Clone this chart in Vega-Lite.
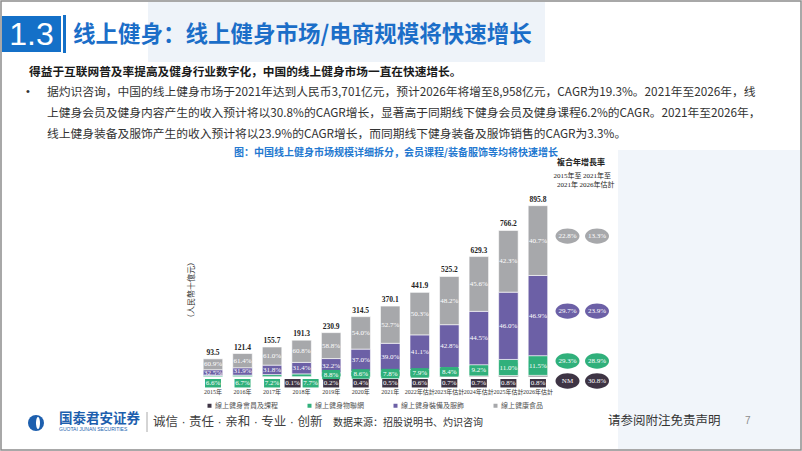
{
  "$schema": "https://vega.github.io/schema/vega-lite/v6.json",
  "width": 802,
  "height": 451,
  "padding": 0,
  "autosize": {"type": "none"},
  "background": "white",
  "config": {"view": {"stroke": null}, "text": {"font": "Noto Sans CJK SC"}},
  "data": {"values": [{}]},
  "datasets": {
    "seg": [
      {"year": "2015年", "seg": "線上健身物聯網", "value": 6.17, "pct": "6.6%"},
      {"year": "2015年", "seg": "線上健身裝備及服飾", "value": 30.39, "pct": "32.5%"},
      {"year": "2015年", "seg": "線上健康食品", "value": 56.94, "pct": "60.9%"},
      {"year": "2016年", "seg": "線上健身物聯網", "value": 8.13, "pct": "6.7%"},
      {"year": "2016年", "seg": "線上健身裝備及服飾", "value": 38.73, "pct": "31.9%"},
      {"year": "2016年", "seg": "線上健康食品", "value": 74.54, "pct": "61.4%"},
      {"year": "2017年", "seg": "線上健身物聯網", "value": 11.21, "pct": "7.2%"},
      {"year": "2017年", "seg": "線上健身裝備及服飾", "value": 49.51, "pct": "31.8%"},
      {"year": "2017年", "seg": "線上健康食品", "value": 94.98, "pct": "61.0%"},
      {"year": "2018年", "seg": "線上健身會員及課程", "value": 0.19, "pct": "0.1%"},
      {"year": "2018年", "seg": "線上健身物聯網", "value": 14.73, "pct": "7.7%"},
      {"year": "2018年", "seg": "線上健身裝備及服飾", "value": 60.07, "pct": "31.4%"},
      {"year": "2018年", "seg": "線上健康食品", "value": 116.31, "pct": "60.8%"},
      {"year": "2019年", "seg": "線上健身會員及課程", "value": 0.46, "pct": "0.2%"},
      {"year": "2019年", "seg": "線上健身物聯網", "value": 20.32, "pct": "8.8%"},
      {"year": "2019年", "seg": "線上健身裝備及服飾", "value": 74.35, "pct": "32.2%"},
      {"year": "2019年", "seg": "線上健康食品", "value": 135.77, "pct": "58.8%"},
      {"year": "2020年", "seg": "線上健身會員及課程", "value": 1.26, "pct": "0.4%"},
      {"year": "2020年", "seg": "線上健身物聯網", "value": 27.05, "pct": "8.6%"},
      {"year": "2020年", "seg": "線上健身裝備及服飾", "value": 116.37, "pct": "37.0%"},
      {"year": "2020年", "seg": "線上健康食品", "value": 169.82, "pct": "54.0%"},
      {"year": "2021年", "seg": "線上健身會員及課程", "value": 1.85, "pct": "0.5%"},
      {"year": "2021年", "seg": "線上健身物聯網", "value": 28.87, "pct": "7.8%"},
      {"year": "2021年", "seg": "線上健身裝備及服飾", "value": 144.34, "pct": "39.0%"},
      {"year": "2021年", "seg": "線上健康食品", "value": 195.04, "pct": "52.7%"},
      {"year": "2022年估計", "seg": "線上健身會員及課程", "value": 2.65, "pct": "0.6%"},
      {"year": "2022年估計", "seg": "線上健身物聯網", "value": 34.91, "pct": "7.9%"},
      {"year": "2022年估計", "seg": "線上健身裝備及服飾", "value": 181.62, "pct": "41.1%"},
      {"year": "2022年估計", "seg": "線上健康食品", "value": 222.72, "pct": "50.3%"},
      {"year": "2023年估計", "seg": "線上健身會員及課程", "value": 3.68, "pct": "0.7%"},
      {"year": "2023年估計", "seg": "線上健身物聯網", "value": 44.12, "pct": "8.4%"},
      {"year": "2023年估計", "seg": "線上健身裝備及服飾", "value": 224.79, "pct": "42.8%"},
      {"year": "2023年估計", "seg": "線上健康食品", "value": 252.61, "pct": "48.2%"},
      {"year": "2024年估計", "seg": "線上健身會員及課程", "value": 4.41, "pct": "0.7%"},
      {"year": "2024年估計", "seg": "線上健身物聯網", "value": 57.9, "pct": "9.2%"},
      {"year": "2024年估計", "seg": "線上健身裝備及服飾", "value": 280.04, "pct": "44.5%"},
      {"year": "2024年估計", "seg": "線上健康食品", "value": 286.95, "pct": "45.6%"},
      {"year": "2025年估計", "seg": "線上健身會員及課程", "value": 6.13, "pct": "0.8%"},
      {"year": "2025年估計", "seg": "線上健身物聯網", "value": 84.28, "pct": "11.0%"},
      {"year": "2025年估計", "seg": "線上健身裝備及服飾", "value": 352.45, "pct": "46.0%"},
      {"year": "2025年估計", "seg": "線上健康食品", "value": 323.34, "pct": "42.3%"},
      {"year": "2026年估計", "seg": "線上健身會員及課程", "value": 7.17, "pct": "0.8%"},
      {"year": "2026年估計", "seg": "線上健身物聯網", "value": 103.02, "pct": "11.5%"},
      {"year": "2026年估計", "seg": "線上健身裝備及服飾", "value": 420.13, "pct": "46.9%"},
      {"year": "2026年估計", "seg": "線上健康食品", "value": 365.48, "pct": "40.7%"}
    ],
    "totals": [
      {"year": "2015年", "total": 93.5},
      {"year": "2016年", "total": 121.4},
      {"year": "2017年", "total": 155.7},
      {"year": "2018年", "total": 191.3},
      {"year": "2019年", "total": 230.9},
      {"year": "2020年", "total": 314.5},
      {"year": "2021年", "total": 370.1},
      {"year": "2022年估計", "total": 441.9},
      {"year": "2023年估計", "total": 525.2},
      {"year": "2024年估計", "total": 629.3},
      {"year": "2025年估計", "total": 766.2},
      {"year": "2026年估計", "total": 895.8}
    ],
    "cagr": [
      {"seg": "線上健康食品", "p1": "22.8%", "p2": "13.3%"},
      {"seg": "線上健身裝備及服飾", "p1": "29.7%", "p2": "23.9%"},
      {"seg": "線上健身物聯網", "p1": "29.3%", "p2": "28.9%"},
      {"seg": "線上健身會員及課程", "p1": "NM", "p2": "30.8%"}
    ],
    "periods": [
      {"pk": "p1", "year": "2015年至\n2021年"},
      {"pk": "p2", "year": "2021年至\n2026年估計"}
    ]
  },
  "layer": [
    {"mark": {"type": "rect", "fill": "#eef3f9"}, "encoding": {"x": {"value": 148}, "x2": {"value": 545}, "y": {"value": 2}, "y2": {"value": 62}}},
    {"mark": {"type": "rect", "fill": "#f1f5fa"}, "encoding": {"x": {"value": 618}, "x2": {"value": 800}, "y": {"value": 150}, "y2": {"value": 449}}},
    {"mark": {"type": "rect", "fill": "#1470c8"}, "encoding": {"x": {"value": 2}, "x2": {"value": 61}, "y": {"value": 16}, "y2": {"value": 52}}},
    {"mark": {"type": "rect", "fill": "#1470c8"}, "encoding": {"x": {"value": 63}, "x2": {"value": 66}, "y": {"value": 15}, "y2": {"value": 53}}},
    {"mark": {"type": "text", "text": "1.3", "font": "Liberation Sans", "fontSize": 32, "color": "white", "align": "center", "baseline": "middle"}, "encoding": {"x": {"value": 31.5}, "y": {"value": 35}}},
    {"mark": {"type": "text", "text": "线上健身：线上健身市场/电商规模将快速增长", "fontSize": 22.5, "fontWeight": "bold", "color": "#1b6ec8", "align": "left", "baseline": "middle"}, "encoding": {"x": {"value": 73}, "y": {"value": 35}}},
    {"mark": {"type": "text", "text": "得益于互联网普及率提高及健身行业数字化，中国的线上健身市场一直在快速增长。", "fontSize": 11.7, "fontWeight": "bold", "color": "#1a1a1a", "align": "left", "baseline": "middle"}, "encoding": {"x": {"value": 29}, "y": {"value": 72}}},
    {"mark": {"type": "text", "text": "•", "font": "Liberation Sans", "fontSize": 11, "color": "#333333", "align": "left", "baseline": "middle"}, "encoding": {"x": {"value": 26}, "y": {"value": 92}}},
    {"mark": {"type": "text", "text": "据灼识咨询，中国的线上健身市场于2021年达到人民币3,701亿元，预计2026年将增至8,958亿元，CAGR为19.3%。2021年至2026年，线", "fontSize": 11.75, "color": "#333333", "align": "left", "baseline": "middle"}, "encoding": {"x": {"value": 47}, "y": {"value": 92}}},
    {"mark": {"type": "text", "text": "上健身会员及健身内容产生的收入预计将以30.8%的CAGR增长，显著高于同期线下健身会员及健身课程6.2%的CAGR。2021年至2026年，", "fontSize": 11.75, "color": "#333333", "align": "left", "baseline": "middle"}, "encoding": {"x": {"value": 47}, "y": {"value": 113}}},
    {"mark": {"type": "text", "text": "线上健身装备及服饰产生的收入预计将以23.9%的CAGR增长，而同期线下健身装备及服饰销售的CAGR为3.3%。", "fontSize": 11.75, "color": "#333333", "align": "left", "baseline": "middle"}, "encoding": {"x": {"value": 47}, "y": {"value": 134}}},
    {"mark": {"type": "text", "text": "图：中国线上健身市场规模详细拆分，会员课程/装备服饰等均将快速增长", "fontSize": 10, "fontWeight": "bold", "color": "#2378d0", "align": "center", "baseline": "middle"}, "encoding": {"x": {"value": 396}, "y": {"value": 153}}},
    {"mark": {"type": "text", "text": "（人民幣十億元）", "font": "Liberation Serif, Noto Sans CJK TC", "fontSize": 8, "angle": 270, "color": "#333333", "align": "center", "baseline": "middle"}, "encoding": {"x": {"value": 192}, "y": {"value": 290}}},
    {"mark": {"type": "text", "text": "複合年增長率", "font": "Liberation Serif, Noto Sans CJK TC", "fontSize": 8, "fontWeight": "bold", "color": "#222222", "align": "center", "baseline": "middle"}, "encoding": {"x": {"value": 581}, "y": {"value": 163}}},
    {
      "data": {"name": "seg"},
      "transform": [{"stack": "value", "groupby": ["year"], "as": ["y0", "y1"]}],
      "mark": {"type": "bar", "width": {"band": 0.66}, "stroke": "white", "strokeWidth": 0.6},
      "encoding": {
        "x": {"field": "year", "type": "nominal", "axis": null, "scale": {"type": "band", "domain": ["2015年","2016年","2017年","2018年","2019年","2020年","2021年","2022年估計","2023年估計","2024年估計","2025年估計","2026年估計","2015年至\n2021年","2021年至\n2026年估計"], "range": [198.2, 611.8], "paddingInner": 0, "paddingOuter": 0}},
        "y": {"field": "y1", "type": "quantitative", "axis": null, "scale": {"domain": [-389, 1973], "nice": false, "zero": false}},
        "y2": {"field": "y0"},
        "color": {
          "field": "seg", "type": "nominal",
          "scale": {"domain": ["線上健身會員及課程", "線上健身物聯網", "線上健身裝備及服飾", "線上健康食品"], "range": ["#3e3444", "#30b07b", "#6c60a6", "#a7a8ab"]},
          "legend": {"orient": "none", "legendX": 206, "legendY": 402, "direction": "horizontal", "title": null, "symbolType": "square", "symbolSize": 16, "symbolStrokeWidth": 0, "labelFontSize": 7, "labelFont": "Noto Sans CJK TC", "labelColor": "#555555", "columnPadding": 28, "labelOffset": 2}
        }
      }
    },
    {
      "data": {"name": "totals"},
      "mark": {"type": "text", "font": "Liberation Serif", "fontSize": 7.5, "fontWeight": "bold", "color": "#222222", "baseline": "middle", "dy": -6},
      "encoding": {
        "x": {"field": "year", "type": "nominal", "axis": null, "scale": {"type": "band", "domain": ["2015年","2016年","2017年","2018年","2019年","2020年","2021年","2022年估計","2023年估計","2024年估計","2025年估計","2026年估計","2015年至\n2021年","2021年至\n2026年估計"], "range": [198.2, 611.8], "paddingInner": 0, "paddingOuter": 0}},
        "y": {"field": "total", "type": "quantitative", "axis": null, "scale": {"domain": [-389, 1973], "nice": false, "zero": false}},
        "text": {"field": "total", "type": "quantitative", "format": ".1f"}
      }
    },
    {
      "data": {"name": "totals"},
      "mark": {"type": "text", "font": "Liberation Serif, Noto Sans CJK TC", "fontSize": 6, "color": "#333333", "baseline": "middle", "dy": 15.5},
      "encoding": {
        "x": {"field": "year", "type": "nominal", "axis": null, "scale": {"type": "band", "domain": ["2015年","2016年","2017年","2018年","2019年","2020年","2021年","2022年估計","2023年估計","2024年估計","2025年估計","2026年估計","2015年至\n2021年","2021年至\n2026年估計"], "range": [198.2, 611.8], "paddingInner": 0, "paddingOuter": 0}},
        "y": {"datum": 0, "type": "quantitative", "axis": null, "scale": {"domain": [-389, 1973], "nice": false, "zero": false}},
        "text": {"field": "year", "type": "nominal"}
      }
    },
    {
      "data": {"name": "periods"},
      "mark": {"type": "text", "font": "Liberation Serif, Noto Sans CJK TC", "fontSize": 7, "color": "#222222", "baseline": "top", "lineBreak": "\n", "lineHeight": 9},
      "encoding": {
        "x": {"field": "year", "type": "nominal", "axis": null, "scale": {"type": "band", "domain": ["2015年","2016年","2017年","2018年","2019年","2020年","2021年","2022年估計","2023年估計","2024年估計","2025年估計","2026年估計","2015年至\n2021年","2021年至\n2026年估計"], "range": [198.2, 611.8], "paddingInner": 0, "paddingOuter": 0}},
        "y": {"value": 172},
        "text": {"field": "year", "type": "nominal"}
      }
    },
    {
      "data": {"name": "seg"},
      "transform": [
        {"stack": "value", "groupby": ["year"], "as": ["y0", "y1"]},
        {"fold": ["y0", "y1"], "as": ["edge", "v"]},
        {"aggregate": [{"op": "mean", "field": "v", "as": "mid"}], "groupby": ["year", "seg", "pct"]}
      ],
      "encoding": {
        "x": {"field": "year", "type": "nominal", "axis": null, "scale": {"type": "band", "domain": ["2015年","2016年","2017年","2018年","2019年","2020年","2021年","2022年估計","2023年估計","2024年估計","2025年估計","2026年估計","2015年至\n2021年","2021年至\n2026年估計"], "range": [198.2, 611.8], "paddingInner": 0, "paddingOuter": 0}},
        "y": {"field": "mid", "type": "quantitative", "axis": null, "scale": {"domain": [-389, 1973], "nice": false, "zero": false}}
      },
      "layer": [
        {
          "transform": [{"filter": {"field": "seg", "oneOf": ["線上健身裝備及服飾", "線上健康食品"]}}],
          "mark": {"type": "text", "font": "Liberation Serif", "fontSize": 7, "color": "white", "baseline": "middle"},
          "encoding": {"text": {"field": "pct", "type": "nominal"}}
        },
        {
          "transform": [{"filter": {"and": [{"field": "seg", "equal": "線上健身物聯網"}, {"not": {"field": "year", "oneOf": ["2015年", "2016年", "2017年", "2018年"]}}]}}],
          "layer": [
            {"mark": {"type": "point", "shape": "M-1,-0.53H1V0.53H-1Z", "size": 324, "filled": true, "opacity": 1}, "encoding": {"color": {"field": "seg", "type": "nominal", "legend": null}}},
            {"mark": {"type": "text", "font": "Liberation Serif", "fontSize": 7, "color": "white", "baseline": "middle"}, "encoding": {"text": {"field": "pct", "type": "nominal"}}}
          ]
        }
      ]
    },
    {
      "data": {"name": "seg"},
      "transform": [{"filter": {"or": [{"and": [{"field": "seg", "equal": "線上健身物聯網"}, {"field": "year", "oneOf": ["2015年", "2016年", "2017年"]}]}, {"and": [{"field": "seg", "equal": "線上健身會員及課程"}, {"not": {"field": "year", "equal": "2018年"}}]}]}}],
      "encoding": {
        "x": {"field": "year", "type": "nominal", "axis": null, "scale": {"type": "band", "domain": ["2015年","2016年","2017年","2018年","2019年","2020年","2021年","2022年估計","2023年估計","2024年估計","2025年估計","2026年估計","2015年至\n2021年","2021年至\n2026年估計"], "range": [198.2, 611.8], "paddingInner": 0, "paddingOuter": 0}},
        "y": {"datum": 0, "type": "quantitative", "axis": null, "scale": {"domain": [-389, 1973], "nice": false, "zero": false}}
      },
      "layer": [
        {"mark": {"type": "point", "shape": "M-1,-0.53H1V0.53H-1Z", "size": 256, "filled": true, "opacity": 1, "yOffset": 6.5}, "encoding": {"color": {"field": "seg", "type": "nominal", "legend": null}}},
        {"mark": {"type": "text", "font": "Liberation Serif", "fontSize": 7, "color": "white", "baseline": "middle", "yOffset": 6.5}, "encoding": {"text": {"field": "pct", "type": "nominal"}}}
      ]
    },
    {
      "data": {"name": "seg"},
      "transform": [{"filter": {"and": [{"field": "year", "equal": "2018年"}, {"field": "seg", "equal": "線上健身會員及課程"}]}}],
      "encoding": {
        "x": {"field": "year", "type": "nominal", "axis": null, "scale": {"type": "band", "domain": ["2015年","2016年","2017年","2018年","2019年","2020年","2021年","2022年估計","2023年估計","2024年估計","2025年估計","2026年估計","2015年至\n2021年","2021年至\n2026年估計"], "range": [198.2, 611.8], "paddingInner": 0, "paddingOuter": 0}},
        "y": {"datum": 0, "type": "quantitative", "axis": null, "scale": {"domain": [-389, 1973], "nice": false, "zero": false}}
      },
      "layer": [
        {"mark": {"type": "point", "shape": "M-1,-0.53H1V0.53H-1Z", "size": 256, "filled": true, "opacity": 1, "xOffset": -9, "yOffset": 6.5}, "encoding": {"color": {"field": "seg", "type": "nominal", "legend": null}}},
        {"mark": {"type": "text", "font": "Liberation Serif", "fontSize": 7, "color": "white", "baseline": "middle", "xOffset": -9, "yOffset": 6.5}, "encoding": {"text": {"field": "pct", "type": "nominal"}}}
      ]
    },
    {
      "data": {"name": "seg"},
      "transform": [{"filter": {"and": [{"field": "year", "equal": "2018年"}, {"field": "seg", "equal": "線上健身物聯網"}]}}],
      "encoding": {
        "x": {"field": "year", "type": "nominal", "axis": null, "scale": {"type": "band", "domain": ["2015年","2016年","2017年","2018年","2019年","2020年","2021年","2022年估計","2023年估計","2024年估計","2025年估計","2026年估計","2015年至\n2021年","2021年至\n2026年估計"], "range": [198.2, 611.8], "paddingInner": 0, "paddingOuter": 0}},
        "y": {"datum": 0, "type": "quantitative", "axis": null, "scale": {"domain": [-389, 1973], "nice": false, "zero": false}}
      },
      "layer": [
        {"mark": {"type": "point", "shape": "M-1,-0.53H1V0.53H-1Z", "size": 256, "filled": true, "opacity": 1, "xOffset": 9, "yOffset": 6.5}, "encoding": {"color": {"field": "seg", "type": "nominal", "legend": null}}},
        {"mark": {"type": "text", "font": "Liberation Serif", "fontSize": 7, "color": "white", "baseline": "middle", "xOffset": 9, "yOffset": 6.5}, "encoding": {"text": {"field": "pct", "type": "nominal"}}}
      ]
    },
    {
      "data": {"name": "seg"},
      "transform": [
        {"filter": {"field": "year", "equal": "2026年估計"}},
        {"stack": "value", "groupby": ["year"], "as": ["y0", "y1"]},
        {"fold": ["y0", "y1"], "as": ["edge", "v"]},
        {"aggregate": [{"op": "mean", "field": "v", "as": "mid"}], "groupby": ["seg"]},
        {"lookup": "seg", "from": {"data": {"name": "cagr"}, "key": "seg", "fields": ["p1", "p2"]}},
        {"fold": ["p1", "p2"], "as": ["pk", "cagr"]},
        {"lookup": "pk", "from": {"data": {"name": "periods"}, "key": "pk", "fields": ["year"]}}
      ],
      "encoding": {
        "x": {"field": "year", "type": "nominal", "axis": null, "scale": {"type": "band", "domain": ["2015年","2016年","2017年","2018年","2019年","2020年","2021年","2022年估計","2023年估計","2024年估計","2025年估計","2026年估計","2015年至\n2021年","2021年至\n2026年估計"], "range": [198.2, 611.8], "paddingInner": 0, "paddingOuter": 0}},
        "y": {"field": "mid", "type": "quantitative", "axis": null, "scale": {"domain": [-389, 1973], "nice": false, "zero": false}}
      },
      "layer": [
        {"transform": [{"filter": {"not": {"field": "seg", "equal": "線上健身會員及課程"}}}], "mark": {"type": "point", "shape": "M-1,0A1,0.64,0,1,1,1,0A1,0.64,0,1,1,-1,0Z", "size": 576, "filled": true, "opacity": 1, "yOffset": -4.5}, "encoding": {"color": {"field": "seg", "type": "nominal", "legend": null}}},
        {"transform": [{"filter": {"not": {"field": "seg", "equal": "線上健身會員及課程"}}}], "mark": {"type": "text", "font": "Liberation Serif", "fontSize": 7, "color": "white", "baseline": "middle", "yOffset": -4.5}, "encoding": {"text": {"field": "cagr", "type": "nominal"}}},
        {"transform": [{"filter": {"field": "seg", "equal": "線上健身會員及課程"}}], "mark": {"type": "point", "shape": "M-1,0A1,0.64,0,1,1,1,0A1,0.64,0,1,1,-1,0Z", "size": 576, "filled": true, "opacity": 1, "yOffset": 5}, "encoding": {"color": {"field": "seg", "type": "nominal", "legend": null}}},
        {"transform": [{"filter": {"field": "seg", "equal": "線上健身會員及課程"}}], "mark": {"type": "text", "font": "Liberation Serif", "fontSize": 7, "color": "white", "baseline": "middle", "yOffset": 5}, "encoding": {"text": {"field": "cagr", "type": "nominal"}}}
      ]
    },
    {"mark": {"type": "point", "shape": "circle", "size": 256, "filled": true, "opacity": 1, "color": "#1d5fae"}, "encoding": {"x": {"value": 36}, "y": {"value": 423}}},
    {"mark": {"type": "point", "shape": "M-1,0A1,3,0,1,1,1,0A1,3,0,1,1,-1,0Z", "size": 16, "filled": true, "opacity": 1, "color": "white"}, "encoding": {"x": {"value": 38}, "y": {"value": 423}}},
    {"mark": {"type": "text", "text": "国泰君安证券", "fontSize": 13.5, "fontWeight": "bold", "color": "#1d5fae", "align": "left", "baseline": "middle"}, "encoding": {"x": {"value": 59}, "y": {"value": 419}}},
    {"mark": {"type": "text", "text": "GUOTAI JUNAN SECURITIES", "font": "Liberation Sans", "fontSize": 5, "color": "#1d5fae", "align": "left", "baseline": "middle"}, "encoding": {"x": {"value": 59}, "y": {"value": 429}}},
    {"mark": {"type": "rule", "color": "#aaaaaa", "strokeWidth": 1}, "encoding": {"x": {"value": 147}, "y": {"value": 412}, "y2": {"value": 432}}},
    {"mark": {"type": "text", "text": "诚信 · 责任 · 亲和 · 专业 · 创新", "font": "Liberation Sans, Noto Sans CJK SC", "fontSize": 12.5, "color": "#404040", "align": "left", "baseline": "middle"}, "encoding": {"x": {"value": 153}, "y": {"value": 422}}},
    {"mark": {"type": "text", "text": "数据来源：招股说明书、灼识咨询", "fontSize": 10, "color": "#333333", "align": "left", "baseline": "middle"}, "encoding": {"x": {"value": 333}, "y": {"value": 423}}},
    {"mark": {"type": "text", "text": "请参阅附注免责声明", "fontSize": 12.5, "color": "#333333", "align": "left", "baseline": "middle"}, "encoding": {"x": {"value": 608}, "y": {"value": 421}}},
    {"mark": {"type": "text", "text": "7", "font": "Liberation Sans", "fontSize": 10, "color": "#8c8c8c", "align": "left", "baseline": "middle"}, "encoding": {"x": {"value": 745}, "y": {"value": 421}}},
    {"mark": {"type": "rect", "fill": null, "stroke": "#8c8c8c", "strokeWidth": 1.5}, "encoding": {"x": {"value": 1}, "x2": {"value": 801}, "y": {"value": 1}, "y2": {"value": 450}}}
  ]
}
